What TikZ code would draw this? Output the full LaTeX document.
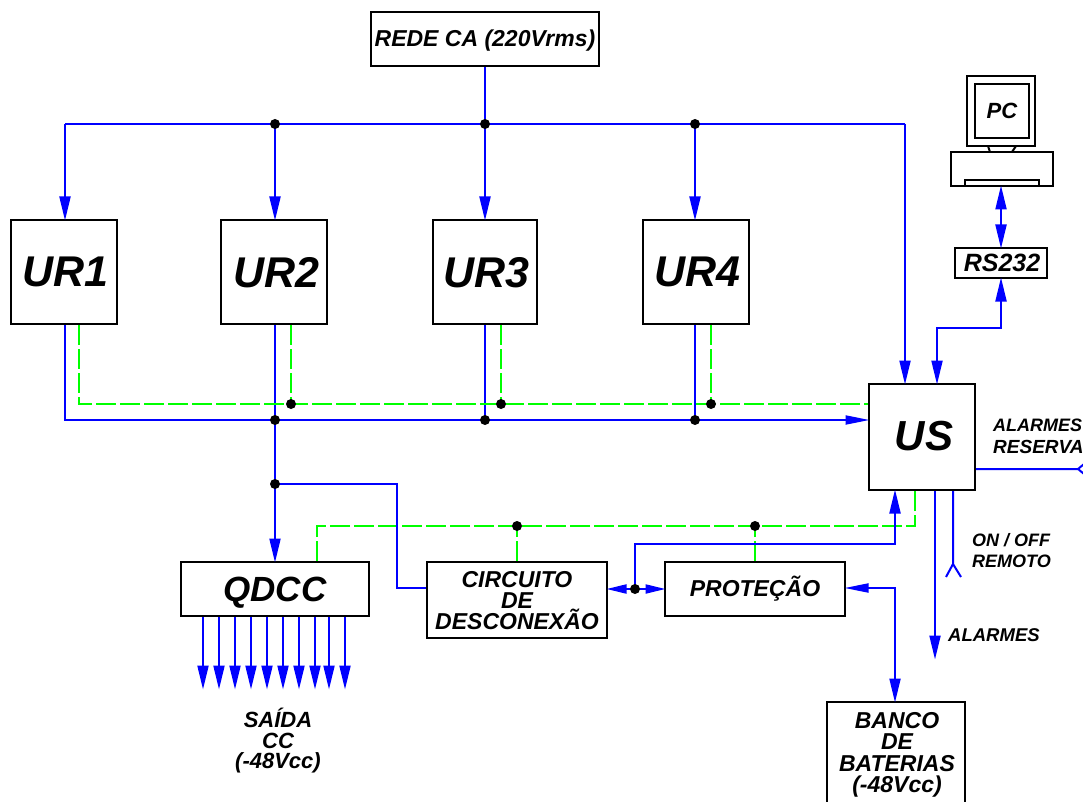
\documentclass[tikz,border=0pt]{standalone}
\usepackage{fontspec}
\setmainfont{Liberation Sans}
\usetikzlibrary{arrows.meta}
\newcommand{\fs}[1]{\fontsize{#1}{#1}\selectfont\bfseries\itshape}
\tikzset{
  x=1pt,y=-1pt,
  box/.style={draw=black,line width=2pt,fill=white,inner sep=0pt,minimum width=#1},
  lab/.style={inner sep=0pt,align=center,text=black,text depth=0pt},
  mlab/.style 2 args={inner sep=0pt,align=center,text=black,font={\fontsize{#1}{#2}\selectfont\bfseries\itshape}},
  labl/.style 2 args={inner sep=0pt,align=left,text=black,anchor=west,font={\fontsize{#1}{#2}\selectfont\bfseries\itshape}},
  blue line/.style={draw=bluel,line width=2pt},
  green line/.style={draw=greenl,line width=2pt,dash pattern=on 20pt off 4pt},
  tipv/.tip={Triangle[length=24pt,width=11pt]},
  tiph/.tip={Triangle[length=24pt,width=9pt]},
  tips/.tip={Triangle[length=20pt,width=9pt]},
  dot/.style={circle,fill=black,inner sep=0pt,minimum size=10pt},
  ar/.style={blue line,-{tipv},shorten >=-1.5pt},
  arh/.style={blue line,-{tiph},shorten >=-1.5pt},
  dblh/.style={blue line,{tiph}-{tipv},shorten >=-1.5pt,shorten <=-1.5pt},
  dbls/.style={blue line,{tips}-{tips},shorten >=-1.5pt,shorten <=-1.5pt},
  dblv/.style={blue line,{tipv}-{tipv},shorten >=-1.5pt,shorten <=-1.5pt},
  plain/.style={draw=black,line width=2pt},
}
\definecolor{bluel}{RGB}{0,0,255}
\definecolor{greenl}{RGB}{0,255,0}
\begin{document}
\begin{tikzpicture}
\useasboundingbox (0,0) rectangle (1083,802);
% junction coordinates
\coordinate (t1) at (275,124);
\coordinate (t2) at (485,124);
\coordinate (t3) at (695,124);
\coordinate (g2) at (291,404);
\coordinate (g3) at (501,404);
\coordinate (g4) at (711,404);
\coordinate (b2) at (275,420);
\coordinate (b3) at (485,420);
\coordinate (b4) at (695,420);
\coordinate (q1) at (275,484);
\coordinate (g5) at (517,526);
\coordinate (g6) at (755,526);
\coordinate (m1) at (635,589);
\coordinate (tl) at (65,124);
\coordinate (tr) at (905,124);
\coordinate (gl) at (79,404);
\coordinate (bl) at (65,420);
\coordinate (gq) at (317,526);
\coordinate (gus) at (915,526);
\coordinate (q2) at (397,484);
\coordinate (us1) at (895,544);
\coordinate (pv) at (895,588);
\coordinate (rv) at (1001,328);
\coordinate (usr) at (937,328);
% boxes
\node[box=228pt,minimum height=54pt] (rede) at (485,39) {};
\node[box=106pt,minimum height=104pt] (ur1) at (64,272) {};
\node[box=106pt,minimum height=104pt] (ur2) at (274,272) {};
\node[box=104pt,minimum height=104pt] (ur3) at (485,272) {};
\node[box=106pt,minimum height=104pt] (ur4) at (696,272) {};
\node[box=106pt,minimum height=106pt] (us) at (922,437) {};
\node[box=188pt,minimum height=54pt] (qdcc) at (275,589) {};
\node[box=180pt,minimum height=76pt] (circ) at (517,600) {};
\node[box=180pt,minimum height=54pt] (prot) at (755,589) {};
\node[box=138pt,minimum height=104pt] (banco) at (896,754) {};
\node[box=92pt,minimum height=30pt] (rs) at (1001,263) {};
\node[box=68pt,minimum height=70pt] (mon) at (1001,111) {};
\node[box=54pt,minimum height=54pt] (scr) at (1002,111) {};
\node[box=102pt,minimum height=34pt] (pc) at (1002,169) {};
\node[box=74pt,minimum height=6pt,anchor=south] (slot) at (pc.south) {};
\coordinate (st1) at (988,146);
\coordinate (st2) at (990,152);
\coordinate (st3) at (1016,146);
\coordinate (st4) at (1012,152);
\draw[plain] (st1) -- (st2) (st3) -- (st4);
% mains distribution
\draw[ar] (rede.south) -- (rede.south |- ur3.north);
\draw[blue line] (tl) -- (tr);
\draw[ar] (tr) -- (tr |- us.north);
\draw[ar] (tl) -- (tl |- ur1.north);
\draw[ar] (t1) -- (t1 |- ur2.north);
\draw[ar] (t3) -- (t3 |- ur4.north);
% rectifier outputs
\draw[arh] (bl |- ur1.south) -- (bl) -- (bl -| us.west);
\draw[ar] (b2 |- ur2.south) -- (b2 |- qdcc.north);
\draw[blue line] (b3 |- ur3.south) -- (b3);
\draw[blue line] (b4 |- ur4.south) -- (b4);
% alarm bus
\draw[green line] (gl |- ur1.south) -- (gl) -- (gl -| us.west);
\draw[green line] (g2 |- ur2.south) -- (g2);
\draw[green line] (g3 |- ur3.south) -- (g3);
\draw[green line] (g4 |- ur4.south) -- (g4);
\draw[green line] (gq |- qdcc.north) -- (gq) -- (gus) -- (gus |- us.south);
\draw[green line] (g5 |- circ.north) -- (g5);
\draw[green line] (g6 |- prot.north) -- (g6);
% lower blocks
\draw[blue line] (q1) -- (q2) -- (q2 |- pv) -- (pv -| circ.west);
\draw[dbls] (circ.east |- m1) -- (prot.west |- m1);
\draw[ar] (m1) -- (m1 |- us1) -- (us1) -- (us1 |- us.south);
\draw[dblh] (prot.east |- pv) -- (pv) -- (pv |- banco.north);
% PC link
\draw[dblv] (pc.south -| rs.north) -- (rs.north);
\draw[dblv] (rs.south) -- (rv) -- (usr) -- (usr |- us.north);
% US outputs
\coordinate (fr) at (1078,469);
\coordinate (fr1) at (1084,464);
\coordinate (fr2) at (1084,474);
\draw[blue line] (us.east |- fr) -- (fr) (fr1) -- (fr) -- (fr2);
\coordinate (fo) at (953,564);
\coordinate (fo1) at (946,577);
\coordinate (fo2) at (961,577);
\draw[blue line] (fo |- us.south) -- (fo) (fo1) -- (fo) -- (fo2);
\coordinate (al) at (935,658);
\draw[ar] (al |- us.south) -- (al);
% QDCC outputs
\foreach \n/\px in {a/203,b/219,c/235,d/251,e/267,f/283,g/299,h/315,i/329,j/345}{
  \coordinate (o\n) at (\px,688);
  \draw[ar] (o\n |- qdcc.south) -- (o\n);
}
% dots
\foreach \c in {t1,t2,t3,g2,g3,g4,b2,b3,b4,q1,g5,g6,m1}{
  \node[dot] (d\c) at (\c) {};
}
% labels
\node[lab] (lrede) at (485,38) {\fs{23}REDE CA (220Vrms)};
\node[lab] (lur1) at (65.5,272) {\fs{43}UR1};
\node[lab] (lur2) at (276.5,272) {\fs{43}UR2};
\node[lab] (lur3) at (486.5,272) {\fs{43}UR3};
\node[lab] (lur4) at (697.5,272) {\fs{43}UR4};
\node[lab] (lus) at (924,436) {\fs{42}US};
\node[lab] (lq) at (qdcc) {\fs{35}QDCC};
\node[mlab={23}{21}] (lc) at (517,601) {CIRCUITO\\DE\\DESCONEXÃO};
\node[lab] (lp) at (755,586) {\fs{23}PROTEÇÃO};
\node[lab] (lrs) at (1002,263) {\fs{25}RS232};
\node[lab] (lpc) at (scr) {\fs{22}PC};
\node[mlab={23}{21.5}] (lb) at (897,755) {BANCO\\DE\\BATERIAS\\(-48Vcc)};
\node[mlab={22}{20.5}] (ls) at (278,741) {SAÍDA\\CC\\(-48Vcc)};
\node[labl={18}{21}] (lo) at (972,551) {ON / OFF\\REMOTO};
\node[labl={18.5}{18.5}] (la) at (948,635) {ALARMES};
\node[labl={18}{22}] (lr) at (993,436) {ALARMES\\{\fontsize{19}{22}\selectfont RESERVA}};
\end{tikzpicture}
\end{document}
